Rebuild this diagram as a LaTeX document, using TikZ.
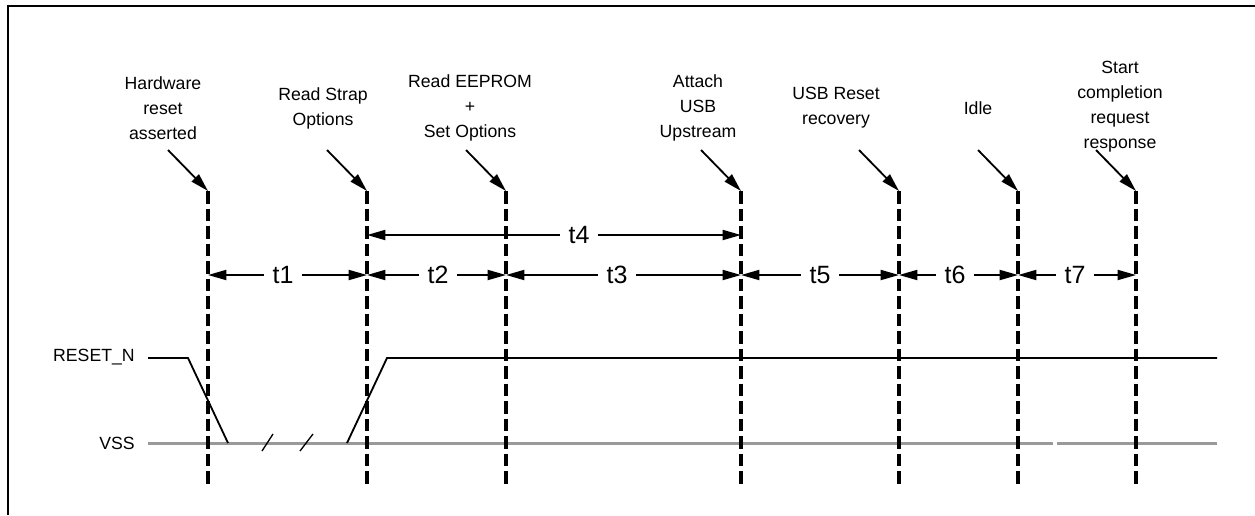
\documentclass[tikz,border=0pt]{standalone}
\usepackage{fontspec}
\setmainfont{Liberation Sans}
\usetikzlibrary{arrows.meta}
\definecolor{vssgray}{HTML}{999999}

\begin{document}
\begin{tikzpicture}[x=0.6pt,y=-0.6pt,>={Triangle[length=11pt,width=6pt]},
 marker/.style={dash pattern=on 7.5pt off 3pt,line width=1.9pt},
 event/.style={align=center,font=\fontsize{10.6}{15}\selectfont,inner sep=0pt},
 span/.style={font=\fontsize{15}{17}\selectfont,inner sep=5pt},
 sig/.style={font=\fontsize{10.6}{12}\selectfont,anchor=east,inner sep=0pt},
 pointer/.style={->,line width=1.1pt},
 dim/.style={->,line width=1.1pt}]
\useasboundingbox (0,0) rectangle (1255,515);
\draw[line width=1.5pt] (8,515) -- (8,6) -- (1255,6);

% event labels
\node[event] (hw) at (163,108) {Hardware\\reset\\asserted};
\node[event] (strap) at (323,108) {Read Strap\\Options};
\node[event] (eeprom) at (470,108) {Read EEPROM\\+\\Set Options};
\node[event] (attach) at (698,108) {Attach\\USB\\Upstream};
\node[event] (usbrst) at (836,108) {USB Reset\\recovery};
\node[event] (idle) at (978,108) {Idle};
\node[event] (start) at (1120,107) {Start\\completion\\request\\response};

% signals
\node[sig] (rst) at (135,357) {RESET\_N};
\node[sig] (vss) at (135,443) {VSS};
\draw[vssgray,line width=1.8pt] (148,443) -- (1053,443);
\draw[vssgray,line width=1.8pt] (1057,443) -- (1217,443);
\draw[line width=1.1pt] (148,358) -- (188,358) -- (228,443);
\draw[line width=1.1pt] (347,443) -- (387,358) -- (1217,358);
\draw[line width=0.8pt] (262,451) -- (273,434);
\draw[line width=0.8pt] (300,451) -- (313,434);

% event markers
\foreach \n/\x in {a/208,b/367,c/506,d/741,e/899,f/1018,g/1136}{
  \coordinate (top\n) at (\x,191);
  \coordinate (bot\n) at (\x,485);
  \coordinate (tail\n) at (\x-40,150);
  \draw[marker] (top\n) -- (bot\n);
  \draw[pointer] (tail\n) -- (top\n);
}

% timing spans
\node[span] (t4) at (579,235) {t4};
\draw[dim] (t4.west) -- (topb|-t4);
\draw[dim] (t4.east) -- (topd|-t4);
\foreach \t/\x/\l/\r in {t1/283/a/b,t2/438/b/c,t3/617/c/d,t5/820/d/e,t6/955/e/f,t7/1075/f/g}{
  \node[span] (\t) at (\x,275) {\t};
  \draw[dim] (\t.west) -- (top\l|-\t);
  \draw[dim] (\t.east) -- (top\r|-\t);
}
\end{tikzpicture}
\end{document}
